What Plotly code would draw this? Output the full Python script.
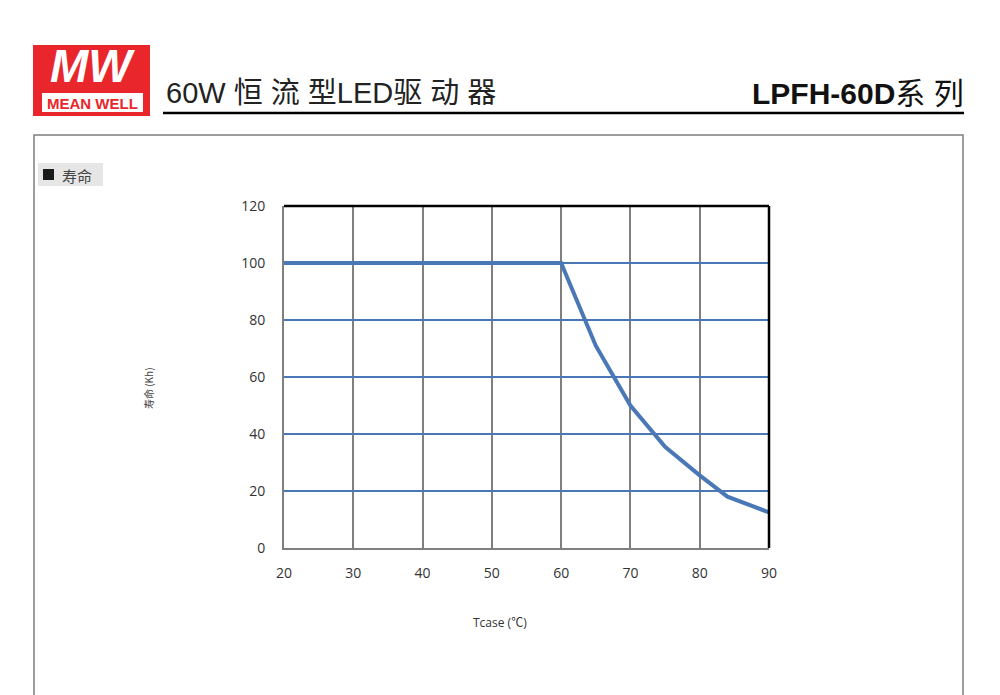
import plotly.graph_objects as go

# Data
tcase = [20, 60, 65, 70, 75, 80, 84, 90]
life_kh = [100, 100, 71, 50, 35.5, 25.5, 18, 12.5]
x_ticks = [20, 30, 40, 50, 60, 70, 80, 90]
y_ticks = [0, 20, 40, 60, 80, 100, 120]

W, H = 1000, 695
OFF = 8  # page body margin
BLUE = "#4a77b5"
GREY = "#7f7f7f"

def px(x): return (x - OFF) / W
def py(y): return 1 - (y - OFF) / H

fig = go.Figure()
fig.add_trace(go.Scatter(x=tcase, y=life_kh, mode="lines",
                         line=dict(color=BLUE, width=4), hoverinfo="x+y",
                         showlegend=False))

fig.update_layout(
    width=W, height=H,
    margin=dict(l=0, r=0, t=0, b=0, autoexpand=False),
    paper_bgcolor="white", plot_bgcolor="white",
    font=dict(family="Open Sans, Noto Sans CJK SC", color="#333333"),
    xaxis=dict(domain=[px(284), px(769)], range=[20, 90], tickvals=x_ticks,
               showgrid=True, gridcolor=GREY, gridwidth=2,
               showline=True, linecolor=GREY, linewidth=2,
               zeroline=False, ticks="", tickfont=dict(size=14, color="#333"),
               ticklabelstandoff=11, automargin=False),
    yaxis=dict(domain=[py(548), py(206)], range=[0, 120], tickvals=y_ticks,
               showgrid=True, gridcolor=BLUE, gridwidth=2,
               showline=True, linecolor=GREY, linewidth=2,
               zeroline=False, ticks="", tickfont=dict(size=14, color="#333"),
               ticklabelstandoff=14, automargin=False),
)

shapes = []
# black top and right borders of plot
shapes.append(dict(type="line", xref="x domain", yref="y domain", x0=0, x1=1, y0=1, y1=1,
                   line=dict(color="black", width=2.5)))
shapes.append(dict(type="line", xref="x domain", yref="y domain", x0=1, x1=1, y0=0, y1=1,
                   line=dict(color="black", width=2.5)))
# outer frame
shapes.append(dict(type="rect", xref="paper", yref="paper", x0=px(34), x1=px(963), y0=py(710), y1=py(135),
                   line=dict(color=GREY, width=1.5), fillcolor="rgba(0,0,0,0)", layer="below"))
# header underline
shapes.append(dict(type="line", xref="paper", yref="paper", x0=px(163), x1=px(964), y0=py(113), y1=py(113),
                   line=dict(color="black", width=2.5)))
# logo
shapes.append(dict(type="rect", xref="paper", yref="paper", x0=px(33), x1=px(150), y0=py(116), y1=py(45),
                   line=dict(width=0), fillcolor="#e8262b"))
shapes.append(dict(type="rect", xref="paper", yref="paper", x0=px(42), x1=px(143), y0=py(112), y1=py(93),
                   line=dict(width=0), fillcolor="white"))
# section label background and square
shapes.append(dict(type="rect", xref="paper", yref="paper", x0=px(38), x1=px(103), y0=py(186), y1=py(163),
                   line=dict(width=0), fillcolor="#e6e6e6", layer="below"))
shapes.append(dict(type="rect", xref="paper", yref="paper", x0=px(43), x1=px(54), y0=py(180), y1=py(169),
                   line=dict(width=0), fillcolor="#1a1a1a"))
fig.update_layout(shapes=shapes)

def note(text, x, y, size, color, family, xanchor="center", yanchor="middle", **kw):
    return dict(text=text, x=px(x), y=py(y), xref="paper", yref="paper",
                xanchor=xanchor, yanchor=yanchor, showarrow=False,
                font=dict(family=family, size=size, color=color), **kw)

ann = [
    note("<b><i>MW</i></b>", 92, 66, 46, "white", "Liberation Sans"),
    note("<b>MEAN WELL</b>", 92.5, 104, 15, "#e8262b", "Liberation Sans"),
    note("60W 恒 流 型LED驱 动 器", 164, 93, 29, "#222",
         "Liberation Sans, Noto Sans CJK SC", xanchor="left"),
    note("<b>LPFH-60D</b>系 列", 966, 93, 30, "#111",
         "Liberation Sans, Noto Sans CJK SC", xanchor="right"),
    note("寿命", 60, 175, 15, "#444", "Noto Sans CJK SC", xanchor="left"),
    note("寿命 (Kh)", 148, 388, 10, "#444", "Noto Sans CJK SC", textangle=-90),
    note("Tcase (℃)", 500, 622, 12, "#333", "Open Sans, Noto Sans CJK SC"),
]
fig.update_layout(annotations=ann)

fig.write_html("out.html")
